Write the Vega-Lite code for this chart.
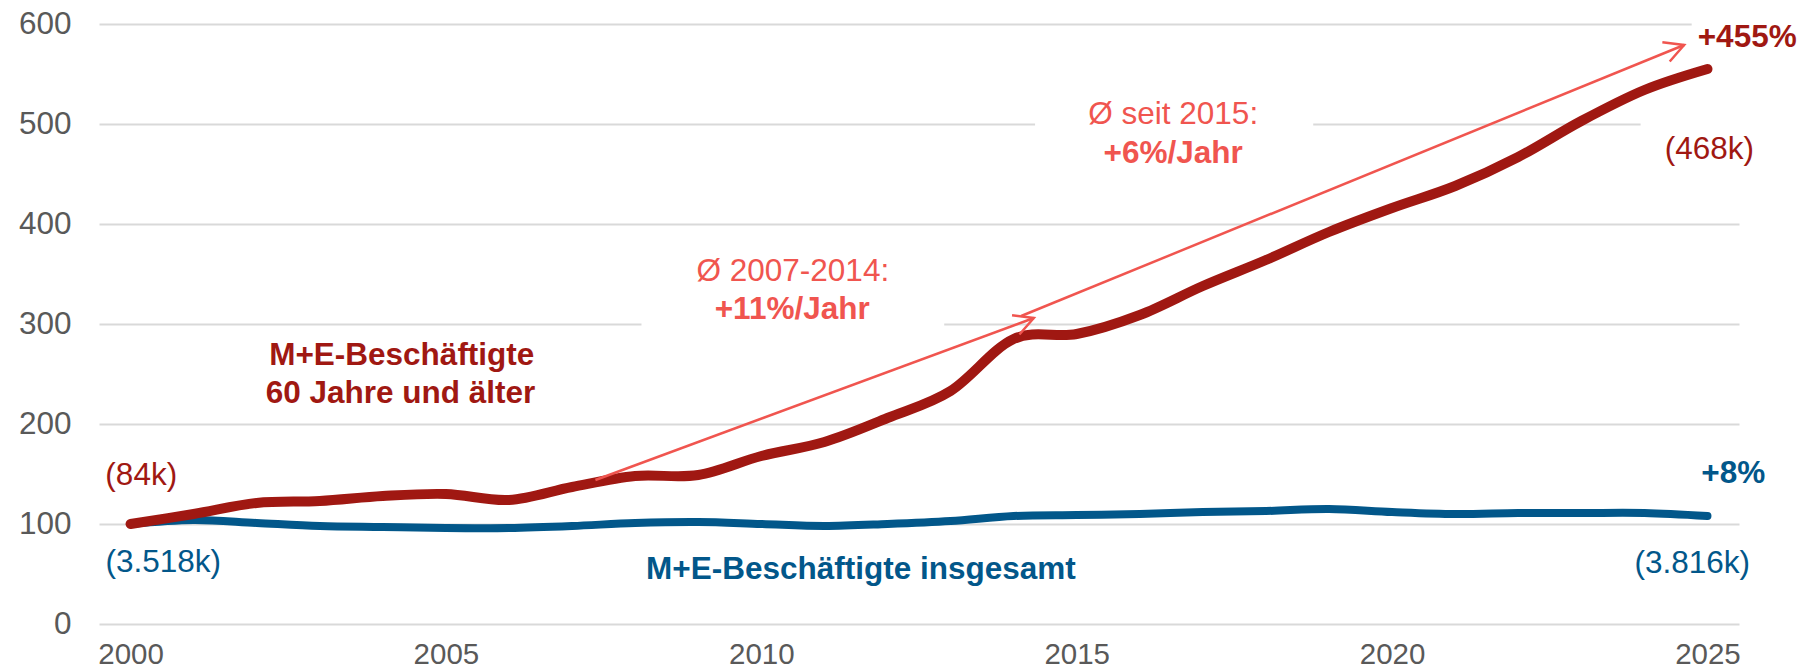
{
  "$schema": "https://vega.github.io/schema/vega-lite/v6.json",
  "width": 1640,
  "height": 600,
  "autosize": {"type": "none"},
  "padding": {"left": 99, "top": 24, "right": 59, "bottom": 46},
  "background": "white",
  "config": {"view": {"stroke": null}, "font": "Liberation Sans"},
  "datasets": {
    "series": [
      {"year": 2000, "series": "gesamt", "value": 100},
      {"year": 2001, "series": "gesamt", "value": 104},
      {"year": 2002, "series": "gesamt", "value": 101},
      {"year": 2003, "series": "gesamt", "value": 98},
      {"year": 2004, "series": "gesamt", "value": 97},
      {"year": 2005, "series": "gesamt", "value": 96},
      {"year": 2006, "series": "gesamt", "value": 96},
      {"year": 2007, "series": "gesamt", "value": 98},
      {"year": 2008, "series": "gesamt", "value": 101},
      {"year": 2009, "series": "gesamt", "value": 102},
      {"year": 2010, "series": "gesamt", "value": 100},
      {"year": 2011, "series": "gesamt", "value": 98},
      {"year": 2012, "series": "gesamt", "value": 100},
      {"year": 2013, "series": "gesamt", "value": 103},
      {"year": 2014, "series": "gesamt", "value": 108},
      {"year": 2015, "series": "gesamt", "value": 109},
      {"year": 2016, "series": "gesamt", "value": 110},
      {"year": 2017, "series": "gesamt", "value": 112},
      {"year": 2018, "series": "gesamt", "value": 113},
      {"year": 2019, "series": "gesamt", "value": 115},
      {"year": 2020, "series": "gesamt", "value": 112},
      {"year": 2021, "series": "gesamt", "value": 110},
      {"year": 2022, "series": "gesamt", "value": 111},
      {"year": 2023, "series": "gesamt", "value": 111},
      {"year": 2024, "series": "gesamt", "value": 111},
      {"year": 2025, "series": "gesamt", "value": 108},
      {"year": 2000, "series": "60plus", "value": 100},
      {"year": 2001, "series": "60plus", "value": 110},
      {"year": 2002, "series": "60plus", "value": 121},
      {"year": 2003, "series": "60plus", "value": 123},
      {"year": 2004, "series": "60plus", "value": 128},
      {"year": 2005, "series": "60plus", "value": 130},
      {"year": 2006, "series": "60plus", "value": 124},
      {"year": 2007, "series": "60plus", "value": 137},
      {"year": 2008, "series": "60plus", "value": 148},
      {"year": 2009, "series": "60plus", "value": 149},
      {"year": 2010, "series": "60plus", "value": 168},
      {"year": 2011, "series": "60plus", "value": 182},
      {"year": 2012, "series": "60plus", "value": 206},
      {"year": 2013, "series": "60plus", "value": 233},
      {"year": 2014, "series": "60plus", "value": 285},
      {"year": 2015, "series": "60plus", "value": 290},
      {"year": 2016, "series": "60plus", "value": 309},
      {"year": 2017, "series": "60plus", "value": 338},
      {"year": 2018, "series": "60plus", "value": 364},
      {"year": 2019, "series": "60plus", "value": 392},
      {"year": 2020, "series": "60plus", "value": 416},
      {"year": 2021, "series": "60plus", "value": 438},
      {"year": 2022, "series": "60plus", "value": 467},
      {"year": 2023, "series": "60plus", "value": 503},
      {"year": 2024, "series": "60plus", "value": 534},
      {"year": 2025, "series": "60plus", "value": 555}
    ],
    "masks": [
      {"year": 2008.1, "year2": 2012.9, "value": 290, "value2": 345},
      {"year": 2014.34, "year2": 2018.75, "value": 485, "value2": 520},
      {"year": 2023.94, "year2": 2025.7, "value": 485, "value2": 515},
      {"year": 2024.75, "year2": 2025.7, "value": 590, "value2": 610}
    ],
    "arrows": [
      {"year": 2007.37, "value": 144, "year2": 2014.32, "value2": 306},
      {"year": 2014.12, "value": 308, "year2": 2024.63, "value2": 579}
    ],
    "redBold": [
      {"label": "M+E-Beschäftigte", "year": 2004.3, "value": 268},
      {"label": "60 Jahre und älter", "year": 2004.28, "value": 230},
      {"label": "+455%", "year": 2025.63, "value": 586}
    ],
    "redRegular": [
      {"label": "(84k)", "year": 2000.17, "value": 148},
      {"label": "(468k)", "year": 2025.03, "value": 474}
    ],
    "blueBold": [
      {"label": "M+E-Beschäftigte insgesamt", "year": 2011.58, "value": 54},
      {"label": "+8%", "year": 2025.41, "value": 150}
    ],
    "blueRegular": [
      {"label": "(3.518k)", "year": 2000.52, "value": 61},
      {"label": "(3.816k)", "year": 2024.76, "value": 60}
    ],
    "coralRegular": [
      {"label": "Ø 2007-2014:", "year": 2010.5, "value": 352},
      {"label": "Ø seit 2015:", "year": 2016.53, "value": 509}
    ],
    "coralBold": [
      {"label": "+11%/Jahr", "year": 2010.49, "value": 314},
      {"label": "+6%/Jahr", "year": 2016.53, "value": 470}
    ]
  },
  "encoding": {
    "x": {
      "field": "year",
      "type": "quantitative",
      "scale": {"domain": [1999.5, 2025.5], "nice": false, "zero": false},
      "axis": {
        "values": [2000, 2005, 2010, 2015, 2020, 2025],
        "format": "d",
        "title": null,
        "grid": false,
        "domain": false,
        "ticks": false,
        "labelFontSize": 29.5,
        "labelColor": "#595959",
        "labelPadding": 16,
        "labelFont": "Liberation Sans"
      }
    },
    "y": {
      "field": "value",
      "type": "quantitative",
      "scale": {"domain": [0, 600], "nice": false},
      "axis": {
        "values": [0, 100, 200, 300, 400, 500, 600],
        "title": null,
        "grid": true,
        "gridColor": "#D9D9D9",
        "gridWidth": 2,
        "domain": false,
        "ticks": false,
        "labelFontSize": 31.5,
        "labelColor": "#595959",
        "labelPadding": 28,
        "labelFont": "Liberation Sans"
      }
    }
  },
  "layer": [
    {
      "data": {"name": "masks"},
      "mark": {"type": "rect", "color": "white"},
      "encoding": {"x2": {"field": "year2"}, "y2": {"field": "value2"}}
    },
    {
      "data": {"name": "series"},
      "transform": [{"filter": "datum.series === 'gesamt'"}],
      "mark": {"type": "line", "color": "#02578A", "strokeWidth": 8, "interpolate": "cardinal", "strokeCap": "round", "strokeJoin": "round"},
      "encoding": {}
    },
    {
      "data": {"name": "series"},
      "transform": [{"filter": "datum.series === '60plus'"}],
      "mark": {"type": "line", "color": "#A01812", "strokeWidth": 10, "interpolate": "cardinal", "strokeCap": "round", "strokeJoin": "round"},
      "encoding": {}
    },
    {
      "data": {"name": "arrows"},
      "mark": {"type": "rule", "color": "#F0554F", "strokeWidth": 2.5},
      "encoding": {"x2": {"field": "year2"}, "y2": {"field": "value2"}}
    },
    {
      "data": {"name": "arrows"},
      "mark": {"type": "point", "shape": "M-1,-0.53L0,0L-1,0.53", "size": 1500, "filled": false, "stroke": "#F0554F", "strokeWidth": 2.5, "angle": 339, "opacity": 1},
      "encoding": {
        "x": {"field": "year2", "type": "quantitative"},
        "y": {"field": "value2", "type": "quantitative"}
      }
    },
    {
      "data": {"name": "redBold"},
      "mark": {"type": "text", "align": "center", "baseline": "middle", "fontSize": 31.5, "fontWeight": "bold", "color": "#A01812"},
      "encoding": {"text": {"field": "label"}}
    },
    {
      "data": {"name": "redRegular"},
      "mark": {"type": "text", "align": "center", "baseline": "middle", "fontSize": 31.5, "color": "#A01812"},
      "encoding": {"text": {"field": "label"}}
    },
    {
      "data": {"name": "blueBold"},
      "mark": {"type": "text", "align": "center", "baseline": "middle", "fontSize": 31.5, "fontWeight": "bold", "color": "#02578A"},
      "encoding": {"text": {"field": "label"}}
    },
    {
      "data": {"name": "blueRegular"},
      "mark": {"type": "text", "align": "center", "baseline": "middle", "fontSize": 31.5, "color": "#02578A"},
      "encoding": {"text": {"field": "label"}}
    },
    {
      "data": {"name": "coralRegular"},
      "mark": {"type": "text", "align": "center", "baseline": "middle", "fontSize": 31.5, "color": "#F0554F"},
      "encoding": {"text": {"field": "label"}}
    },
    {
      "data": {"name": "coralBold"},
      "mark": {"type": "text", "align": "center", "baseline": "middle", "fontSize": 31.5, "fontWeight": "bold", "color": "#F0554F"},
      "encoding": {"text": {"field": "label"}}
    }
  ]
}
